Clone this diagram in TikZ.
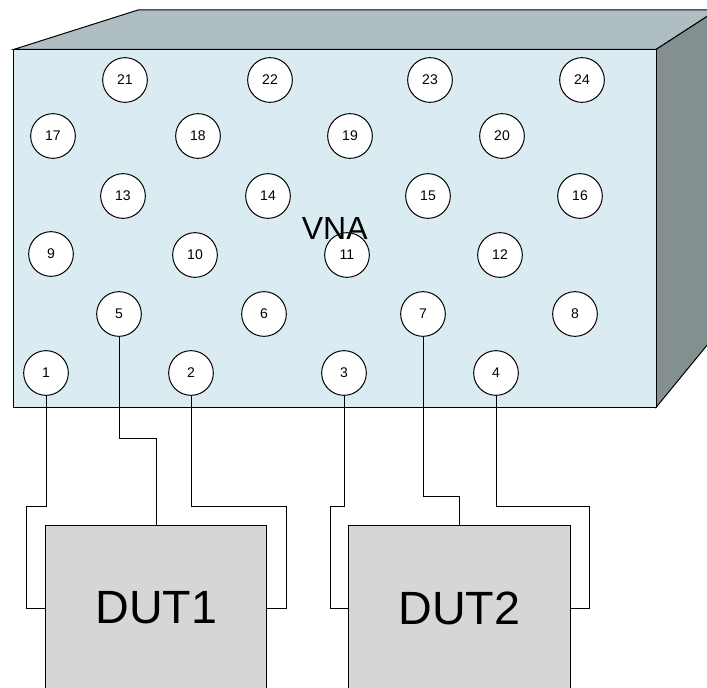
\documentclass[tikz,border=0pt]{standalone}
\usepackage{fontspec}
\setmainfont{Liberation Sans}
\definecolor{frontblue}{HTML}{DAECF2}
\definecolor{topgrey}{HTML}{AFBEC3}
\definecolor{sidegrey}{HTML}{83908F}
\definecolor{dutgrey}{HTML}{D6D6D6}
\begin{document}
\begin{tikzpicture}[x=0.75pt, y=-0.75pt, line width=0.75pt,
  port/.style={draw, circle, fill=white, minimum size=33.5pt, inner sep=0pt, font=\fontsize{10.5}{12}\selectfont},
  dut/.style={draw, fill=dutgrey, minimum width=166pt, minimum height=124.5pt, inner sep=0pt, font=\fontsize{35}{40}\selectfont}]
\useasboundingbox (0,0) rectangle (707,688);
\clip (0,0) rectangle (707,688);
\draw[fill=topgrey] (13.5,49.5) -- (138,10) -- (717,10) -- (656,49.5) -- cycle;
\draw[fill=sidegrey] (656,49.5) -- (717,10) -- (717,333) -- (656,407.5) -- cycle;
\node[draw, fill=frontblue, minimum width=482pt, minimum height=268.5pt, inner sep=0pt] (VNA) at (334.75,228.5) {};
% ports
\foreach \name/\px/\py in {21/125/80, 22/270/80, 23/430/80, 24/582/80,
    17/53/136, 18/198/136, 19/350/136, 20/502/136,
    13/123/196, 14/268/196, 15/428/196, 16/580/196,
    9/51/254, 10/195/255, 11/347/255, 12/500/255,
    5/119/314, 6/264/314, 7/423/314, 8/575/314,
    1/46/373, 2/191/373, 3/344/373, 4/496/373}
  \node[port] (p\name) at (\px,\py) {\name};
\node[font=\fontsize{24}{28}\selectfont, inner sep=0pt] (VNAlabel) at (VNA.center) {VNA};
\node[dut] (DUT1) at (156.25,608) {DUT1};
\node[dut] (DUT2) at (459.5,608) {DUT2};
% cables
\draw (p1.south) |- (26.5,506) |- (DUT1.west);
\draw (p5.south) |- (DUT1.north |- 0,438) -- (DUT1.north);
\draw (p2.south) |- (286,506) |- (DUT1.east);
\draw (p3.south) |- (330,506) |- (DUT2.west);
\draw (p7.south) |- (DUT2.north |- 0,496) -- (DUT2.north);
\draw (p4.south) |- (589,506) |- (DUT2.east);
\end{tikzpicture}
\end{document}
